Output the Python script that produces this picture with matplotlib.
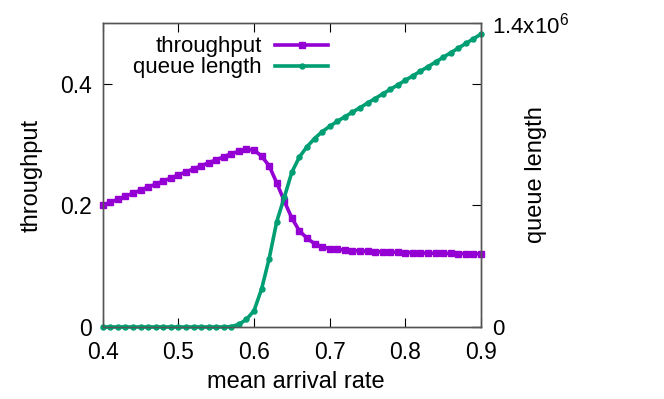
import matplotlib
matplotlib.use("Agg")
import matplotlib.pyplot as plt

plt.rcParams["font.family"] = ["Liberation Sans", "DejaVu Sans"]
plt.rcParams["mathtext.fontset"] = "custom"
plt.rcParams["mathtext.rm"] = "Liberation Sans"

arrival_rate = [
    0.40, 0.41, 0.42, 0.43, 0.44, 0.45, 0.46, 0.47, 0.48, 0.49,
    0.50, 0.51, 0.52, 0.53, 0.54, 0.55, 0.56, 0.57, 0.58, 0.59,
    0.60, 0.61, 0.62, 0.63, 0.64, 0.65, 0.66, 0.67, 0.68, 0.69,
    0.70, 0.71, 0.72, 0.73, 0.74, 0.75, 0.76, 0.77, 0.78, 0.79,
    0.80, 0.81, 0.82, 0.83, 0.84, 0.85, 0.86, 0.87, 0.88, 0.89,
    0.90,
]

throughput = [
    0.200, 0.205, 0.210, 0.215, 0.220, 0.225, 0.230, 0.235, 0.240, 0.245,
    0.250, 0.255, 0.260, 0.265, 0.270, 0.275, 0.280, 0.285, 0.289, 0.292,
    0.291, 0.281, 0.265, 0.237, 0.207, 0.179, 0.158, 0.146, 0.137, 0.132,
    0.129, 0.1275, 0.1265, 0.1255, 0.125, 0.1245, 0.124, 0.1235, 0.123, 0.1227,
    0.1224, 0.1221, 0.1218, 0.1215, 0.1213, 0.1211, 0.1209, 0.1207, 0.1205, 0.1203,
    0.120,
]

queue_length = [
    0, 0, 0, 0, 0, 0, 0, 0, 0, 0,
    0, 0, 0, 0, 0, 0, 0, 2e3, 12e3, 35e3,
    75e3, 175e3, 315e3, 485e3, 597e3, 713e3, 783e3, 830e3, 868e3, 899e3,
    924e3, 947e3, 968e3, 989e3, 1010e3, 1031e3, 1052e3, 1073e3, 1094e3, 1115e3,
    1136e3, 1157e3, 1178e3, 1199e3, 1220e3, 1242e3, 1263e3, 1284e3, 1306e3, 1327e3,
    1349e3,
]

x_ticks = [0.4, 0.5, 0.6, 0.7, 0.8, 0.9]
y_ticks = [0, 0.2, 0.4]
y_tick_labels = ["0", "0.2", "0.4"]
y2_ticks = [0, 1.4e6]
y2_tick_labels = ["0", r"1.4x10$^6$"]

purple = "#9400d3"
green = "#009e73"
fs_tick = 16.5
fs_label = 17
fs_leg = 16

fig, ax = plt.subplots(figsize=(6.64, 3.99), dpi=100)
fig.subplots_adjust(left=0.1547, right=0.7244, top=0.9424, bottom=0.1805)
ax2 = ax.twinx()

l1, = ax.plot(arrival_rate, throughput, color=purple, lw=2.6, marker="s",
              ms=4.2, clip_on=False, label="throughput")
l2, = ax2.plot(arrival_rate, queue_length, color=green, lw=2.6, marker="o",
               ms=3.6, clip_on=False, label="queue length")

ax.set_xlim(0.4, 0.9)
ax.set_ylim(0, 0.5)
ax2.set_ylim(0, 1.4e6)

ax.set_xticks(x_ticks)
ax.set_xticklabels([f"{v:.1f}" for v in x_ticks])
ax.set_yticks(y_ticks)
ax.set_yticklabels(y_tick_labels)
ax2.set_yticks(y2_ticks)
ax2.set_yticklabels(y2_tick_labels)

ax.tick_params(axis="both", direction="in", length=6.5, width=0.8,
               labelsize=fs_tick, top=True, right=True, pad=8)
ax.tick_params(axis="x", pad=10)
ax2.tick_params(axis="y", direction="in", length=6.5, width=0.8,
                labelsize=16, pad=8)

for a in (ax, ax2):
    for sp in a.spines.values():
        sp.set_color("#555555")
        sp.set_linewidth(1.0)

ax.set_xlabel("mean arrival rate", fontsize=fs_label)
ax.xaxis.set_label_coords(0.51, -0.145)
ax.set_ylabel("throughput", fontsize=fs_label)
ax.yaxis.set_label_coords(-0.16, 0.5)
ax2.set_ylabel("queue length", fontsize=fs_label, rotation=90)
ax2.yaxis.set_label_coords(1.115, 0.5)

leg = ax2.legend(handles=[l1, l2], loc="upper right", bbox_to_anchor=(0.62, 0.985),
                 frameon=False, fontsize=fs_leg, markerfirst=False, handlelength=2.4,
                 handletextpad=0.6, labelspacing=0.0, numpoints=1, borderaxespad=0)

fig.savefig("out.png", dpi=100)
